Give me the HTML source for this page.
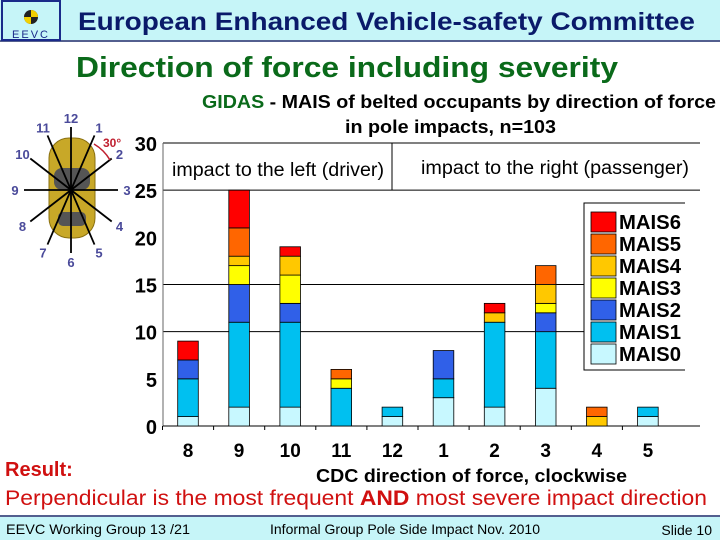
<!DOCTYPE html>
<html><head><meta charset="utf-8"><style>
body{margin:0;width:720px;height:540px;overflow:hidden;background:#fff;font-family:"Liberation Sans",sans-serif}
svg{display:block}
</style></head><body>
<svg id="s" width="720" height="540" xmlns="http://www.w3.org/2000/svg" font-family="Liberation Sans, sans-serif">
<rect x="0" y="0" width="720" height="40" fill="#c6f5f8"/>
<line x1="0" y1="41" x2="720" y2="41" stroke="#1a2a6a" stroke-width="1.5"/>
<g>
<rect x="2" y="1" width="58" height="39" fill="#c6f5f8" stroke="#1a2a8a" stroke-width="2"/>
<circle cx="31" cy="17" r="7" fill="#222"/><path d="M31 10 A7 7 0 0 1 38 17 L31 17Z M31 24 A7 7 0 0 1 24 17 L31 17Z" fill="#f2d000"/>
<text x="31" y="38" font-size="11" fill="#1a2a8a" text-anchor="middle" letter-spacing="2">EEVC</text>
</g>
<text x="78" y="30" font-size="25" font-weight="bold" fill="#0a1a6a" textLength="617" lengthAdjust="spacingAndGlyphs">European Enhanced Vehicle-safety Committee</text>
<text x="76" y="77" font-size="29" font-weight="bold" fill="#0a6a1a" textLength="542" lengthAdjust="spacingAndGlyphs">Direction of force including severity</text>
<text x="202" y="108" font-size="18" font-weight="bold" textLength="514" lengthAdjust="spacingAndGlyphs"><tspan fill="#0a6a1a">GIDAS</tspan> - MAIS of belted occupants by direction of force</text>
<text x="345" y="133" font-size="18" font-weight="bold" textLength="211" lengthAdjust="spacingAndGlyphs">in pole impacts, n=103</text>
<g id="car"></g>
<g id="chart"></g>
<text x="5" y="476" font-size="20" font-weight="bold" fill="#d01010">Result:</text>
<text x="5" y="505" font-size="21" fill="#d01010" textLength="702" lengthAdjust="spacingAndGlyphs">Perpendicular is the most frequent  <tspan font-weight="bold">AND</tspan> most severe impact direction</text>
<line x1="0" y1="516" x2="720" y2="516" stroke="#1a2a6a" stroke-width="1.5"/>
<rect x="0" y="517" width="720" height="23" fill="#c6f5f8"/>
<text x="6" y="534" font-size="14" textLength="184" lengthAdjust="spacingAndGlyphs">EEVC Working Group 13 /21</text>
<text x="270" y="534" font-size="14" textLength="270" lengthAdjust="spacingAndGlyphs">Informal Group Pole Side Impact Nov. 2010</text>
<text x="712" y="535" font-size="14" text-anchor="end">Slide 10</text>
</svg>
<script>
const categories=["8","9","10","11","12","1","2","3","4","5"];
const mais0=[1,2,2,0,1,3,2,4,0,1];
const mais1=[4,9,9,4,1,2,9,6,0,1];
const mais2=[2,4,2,0,0,3,0,2,0,0];
const mais3=[0,2,3,1,0,0,0,1,0,0];
const mais4=[0,1,2,0,0,0,1,2,1,0];
const mais5=[0,3,0,1,0,0,0,2,1,0];
const mais6=[2,4,1,0,0,0,1,0,0,0];
const yTicks=[0,5,10,15,20,25,30];
const seriesNames=["MAIS6","MAIS5","MAIS4","MAIS3","MAIS2","MAIS1","MAIS0"];
const NS="http://www.w3.org/2000/svg";
const colors={MAIS0:"#c8f8ff",MAIS1:"#00c0f0",MAIS2:"#3060e8",MAIS3:"#ffff00",MAIS4:"#ffc800",MAIS5:"#ff6600",MAIS6:"#ff0000"};
const stack=[["MAIS0",mais0],["MAIS1",mais1],["MAIS2",mais2],["MAIS3",mais3],["MAIS4",mais4],["MAIS5",mais5],["MAIS6",mais6]];
const x0=163,x1=700,yb=426,yt=143;
function y(v){return yb-(v/30)*(yb-yt);}
function xc(i){return 188+i*51.1;}
function mk(t,a,p){const e=document.createElementNS(NS,t);for(const k in a)e.setAttribute(k,a[k]);(p||chart).appendChild(e);return e;}
const chart=document.getElementById('chart');
mk('line',{x1:x0,y1:yt,x2:x1,y2:yt,stroke:'#000'});
mk('line',{x1:x0,y1:y(25),x2:x1,y2:y(25),stroke:'#000'});
mk('line',{x1:392,y1:yt,x2:392,y2:y(25),stroke:'#000'});
[10,15].forEach(v=>{mk('line',{x1:x0,y1:y(v),x2:584,y2:y(v),stroke:'#000'});mk('line',{x1:687,y1:y(v),x2:693,y2:y(v),stroke:'#000'});});
mk('line',{x1:x0,y1:yt,x2:x0,y2:yb,stroke:'#666'});
mk('line',{x1:x0,y1:yb,x2:x1,y2:yb,stroke:'#000'});
const l1=mk('text',{x:172,y:176,'font-size':19,textLength:212,lengthAdjust:'spacingAndGlyphs'});l1.textContent="impact to the left (driver)";


const l2=mk('text',{x:421,y:174,'font-size':19,textLength:268,lengthAdjust:'spacingAndGlyphs'});l2.textContent="impact to the right (passenger)";


yTicks.forEach(v=>{const t=mk('text',{x:157,y:y(v)+8,'font-size':20,'font-weight':'bold','text-anchor':'end'});t.textContent=v;

});
categories.forEach((c,i)=>{
  mk('line',{x1:xc(i)-25.5,y1:yb,x2:xc(i)-25.5,y2:yb+4,stroke:'#000'});
  let acc=0;
  stack.forEach(([n,arr])=>{const v=arr[i];if(!v)return;
    const r=mk('rect',{x:xc(i)-10.3,y:y(acc+v),width:20.6,height:y(acc)-y(acc+v),fill:colors[n],stroke:'#000','stroke-width':0.8});
    
    
    acc+=v;});
  const t=mk('text',{x:xc(i),y:457,'font-size':19,'font-weight':'bold','text-anchor':'middle'});t.textContent=c;
  
  
});
const xt=mk('text',{x:316,y:482,'font-size':18,'font-weight':'bold',textLength:311,lengthAdjust:'spacingAndGlyphs'});xt.textContent="CDC direction of force, clockwise";


const lg=mk('g',{});


mk('rect',{x:584,y:203,width:110,height:167,fill:'#fff',stroke:'#000'},lg);
mk('rect',{x:685,y:200,width:20,height:174,fill:'#fff'},lg);
seriesNames.forEach((n,k)=>{const yy=212+k*22;
  const sw=mk('rect',{x:591,y:yy,width:25,height:20,fill:colors[n],stroke:'#000','stroke-width':0.8},lg);
  
  
  const t=mk('text',{x:619,y:yy+17,'font-size':20,'font-weight':'bold',textLength:62,lengthAdjust:'spacingAndGlyphs'},lg);t.textContent=n;
  
  });
const car=document.getElementById('car');
const cx=71,cy=190;
mk('rect',{x:49,y:138,width:46,height:100,rx:20,fill:'#c8a828',stroke:'#8a7010'},car);
mk('rect',{x:54,y:168,width:36,height:22,rx:8,fill:'#555'},car);
mk('rect',{x:58,y:212,width:28,height:14,rx:5,fill:'#555'},car);
const nums=["12","1","2","3","4","5","6","7","8","9","10","11"];
nums.forEach((n,k)=>{const a=k*Math.PI/6;const dx=Math.sin(a),dy=-Math.cos(a);
  mk('line',{x1:cx,y1:cy,x2:cx+dx*47,y2:cy+dy*63,stroke:'#000','stroke-width':1.8},car);
  const t=mk('text',{x:cx+dx*56,y:cy+dy*72+5,'font-size':13,'font-weight':'bold',fill:'#4a4a9a','text-anchor':'middle'},car);t.textContent=n;
  
  });
mk('path',{d:'M94 144 A45 45 0 0 1 110 160',fill:'none',stroke:'#c02030','stroke-width':1.5},car);
const d=mk('text',{x:103,y:147,'font-size':12,'font-weight':'bold',fill:'#c02030'},car);d.textContent="30°";


</script>
</body></html>
